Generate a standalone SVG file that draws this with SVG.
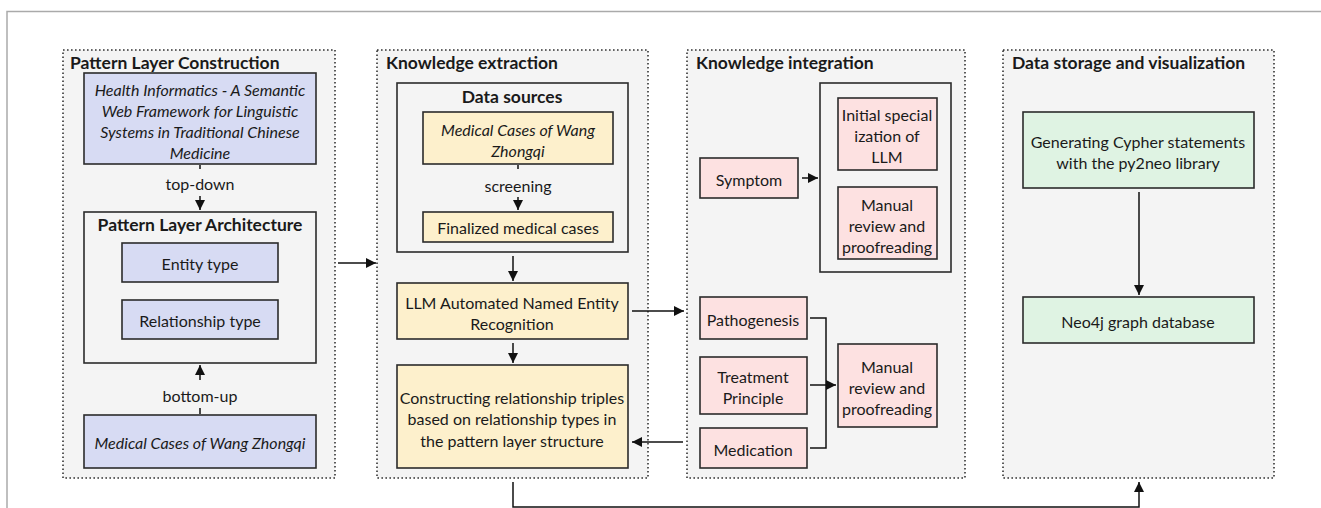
<svg xmlns="http://www.w3.org/2000/svg" width="1321" height="508" viewBox="0 0 1321 508">
<style>
.panel{fill:#f4f4f4;stroke:#333;stroke-width:1.6;stroke-dasharray:1.6 2.4}
.frame{fill:none;stroke:#aaa;stroke-width:1.5}
.box{stroke:#2b2b2b;stroke-width:1.6}
.blue{fill:#d7dbf3}
.yel{fill:#fdf0cc}
.pink{fill:#fde1e1}
.green{fill:#dff3e3}
.cont{fill:#f4f4f4;stroke:#2b2b2b;stroke-width:1.6}
text{font-family:"Lato","Noto Sans",sans-serif;font-size:16px;fill:#1a1a1a;text-anchor:middle;dominant-baseline:central}
.it{font-style:italic}
.title{font-weight:bold;font-size:17.5px;text-anchor:start}
.sub{font-weight:bold;font-size:17.5px}
.conn{fill:none;stroke:#111;stroke-width:1.5}
</style>
<defs>
<marker id="ah" viewBox="0 0 10 10" refX="10" refY="5" markerWidth="10" markerHeight="10" markerUnits="userSpaceOnUse" orient="auto">
<path d="M0,0 L10,5 L0,10 z" fill="#111"/>
</marker>
</defs>
<path class="frame" d="M7,508 V11.5 H1321"/>

<g id="panel1">
<rect class="panel" x="63" y="50" width="272" height="428"/>
<text class="title" x="70" y="62">Pattern Layer Construction</text>
</g>
<g id="panel2">
<rect class="panel" x="377" y="50" width="271" height="428"/>
<text class="title" x="386" y="62">Knowledge extraction</text>
</g>
<g id="panel3">
<rect class="panel" x="687" y="50" width="278" height="428"/>
<text class="title" x="696" y="62">Knowledge integration</text>
</g>
<g id="panel4">
<rect class="panel" x="1003" y="50" width="271" height="428"/>
<text class="title" x="1012" y="62">Data storage and visualization</text>
</g>

<g id="health-informatics">
<rect class="box blue" x="84" y="73" width="232" height="91"/>
<text class="it" x="200" y="89">Health Informatics - A Semantic</text>
<text class="it" x="200" y="110">Web Framework for Linguistic</text>
<text class="it" x="200" y="131">Systems in Traditional Chinese</text>
<text class="it" x="200" y="152">Medicine</text>
</g>
<g id="pattern-layer-architecture">
<rect class="cont" x="84" y="212" width="232" height="151"/>
<text class="sub" x="200" y="224">Pattern Layer Architecture</text>
</g>
<g id="entity-type">
<rect class="box blue" x="122" y="243" width="156" height="39"/>
<text x="200" y="263">Entity type</text>
</g>
<g id="relationship-type">
<rect class="box blue" x="122" y="300" width="156" height="39"/>
<text x="200" y="320">Relationship type</text>
</g>
<g id="medical-cases-1">
<rect class="box blue" x="84" y="415" width="232" height="53"/>
<text class="it" x="200" y="442">Medical Cases of Wang Zhongqi</text>
</g>

<g id="data-sources">
<rect class="cont" x="397" y="83" width="231" height="169"/>
<text class="sub" x="512" y="96">Data sources</text>
</g>
<g id="medical-cases-2">
<rect class="box yel" x="423" y="112" width="190" height="52"/>
<text class="it" x="518" y="129">Medical Cases of Wang</text>
<text class="it" x="518" y="150">Zhongqi</text>
</g>
<g id="finalized">
<rect class="box yel" x="423" y="212" width="190" height="30"/>
<text x="518" y="227">Finalized medical cases</text>
</g>
<g id="llm-ner">
<rect class="box yel" x="397" y="283" width="231" height="56"/>
<text x="512" y="302">LLM Automated Named Entity</text>
<text x="512" y="323">Recognition</text>
</g>
<g id="constructing">
<rect class="box yel" x="397" y="365" width="231" height="103"/>
<text x="512" y="397">Constructing relationship triples</text>
<text x="512" y="418">based on relationship types in</text>
<text x="512" y="440">the pattern layer structure</text>
</g>

<g id="symptom">
<rect class="box pink" x="700" y="158" width="98" height="40"/>
<text x="749" y="179">Symptom</text>
</g>
<g id="symptom-group">
<rect class="cont" x="820" y="83" width="131" height="189"/>
</g>
<g id="initial-specialization">
<rect class="box pink" x="838" y="98" width="99" height="72"/>
<text x="887" y="114">Initial special</text>
<text x="887" y="135">ization of</text>
<text x="887" y="156">LLM</text>
</g>
<g id="manual-review-1">
<rect class="box pink" x="838" y="187" width="99" height="72"/>
<text x="887" y="204">Manual</text>
<text x="887" y="225">review and</text>
<text x="887" y="246">proofreading</text>
</g>
<g id="pathogenesis">
<rect class="box pink" x="700" y="297" width="107" height="42"/>
<text x="753" y="319">Pathogenesis</text>
</g>
<g id="treatment-principle">
<rect class="box pink" x="700" y="357" width="107" height="57"/>
<text x="753" y="376">Treatment</text>
<text x="753" y="397">Principle</text>
</g>
<g id="medication">
<rect class="box pink" x="700" y="428" width="107" height="40"/>
<text x="753" y="449">Medication</text>
</g>
<g id="manual-review-2">
<rect class="box pink" x="838" y="344" width="99" height="83"/>
<text x="887" y="366">Manual</text>
<text x="887" y="387">review and</text>
<text x="887" y="408">proofreading</text>
</g>

<g id="generating-cypher">
<rect class="box green" x="1023" y="112" width="231" height="76"/>
<text x="1138" y="141">Generating Cypher statements</text>
<text x="1138" y="162">with the py2neo library</text>
</g>
<g id="neo4j">
<rect class="box green" x="1023" y="297" width="231" height="46"/>
<text x="1138" y="321">Neo4j graph database</text>
</g>

<g id="connectors">
<line class="conn" x1="200" y1="165" x2="200" y2="169"/>
<text x="200" y="183">top-down</text>
<line class="conn" x1="200" y1="196" x2="200" y2="210" marker-end="url(#ah)"/>
<line class="conn" x1="200" y1="414" x2="200" y2="408"/>
<text x="200" y="395">bottom-up</text>
<line class="conn" x1="200" y1="380" x2="200" y2="365" marker-end="url(#ah)"/>
<line class="conn" x1="338" y1="263" x2="376" y2="263" marker-end="url(#ah)"/>
<line class="conn" x1="518" y1="165" x2="518" y2="169"/>
<text x="518" y="185">screening</text>
<line class="conn" x1="518" y1="197" x2="518" y2="210" marker-end="url(#ah)"/>
<line class="conn" x1="513" y1="256" x2="513" y2="281" marker-end="url(#ah)"/>
<line class="conn" x1="513" y1="343" x2="513" y2="363" marker-end="url(#ah)"/>
<line class="conn" x1="632" y1="311" x2="684" y2="311" marker-end="url(#ah)"/>
<line class="conn" x1="683" y1="442" x2="632" y2="442" marker-end="url(#ah)"/>
<line class="conn" x1="802" y1="178" x2="818" y2="178" marker-end="url(#ah)"/>
<path class="conn" d="M810,318 H826 V448 H810"/>
<line class="conn" x1="810" y1="385" x2="836" y2="385" marker-end="url(#ah)"/>
<line class="conn" x1="1139" y1="192" x2="1139" y2="295" marker-end="url(#ah)"/>
<path class="conn" d="M513,482 V507 H1139 V482" marker-end="url(#ah)"/>
</g>
</svg>
